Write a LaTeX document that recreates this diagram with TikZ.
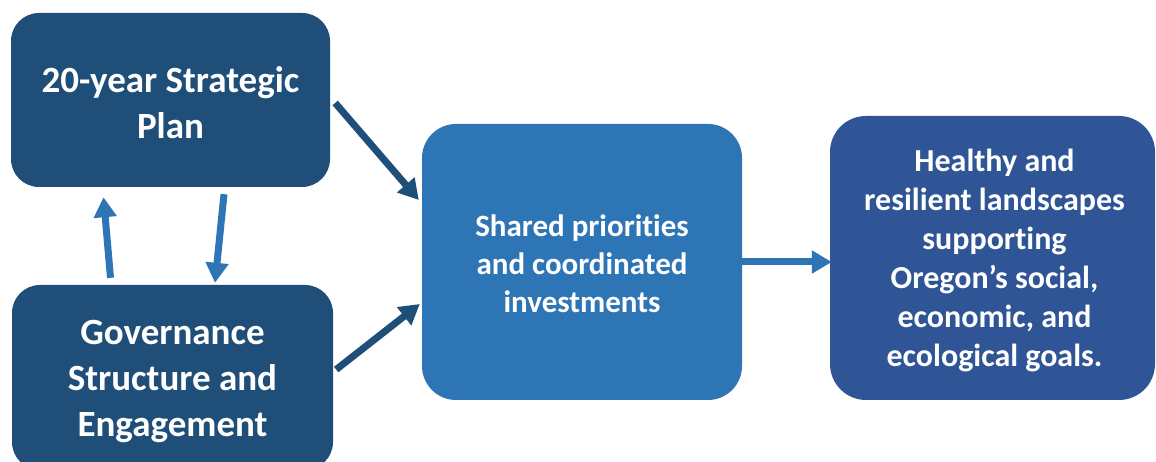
\documentclass[tikz,border=0pt]{standalone}
\usepackage{fontspec}
\setmainfont[Ligatures=NoCommon]{Carlito}
\usetikzlibrary{arrows.meta,calc}
\definecolor{dkblue}{HTML}{1F4E79}
\definecolor{mdblue}{HTML}{2E75B6}
\definecolor{rsblue}{HTML}{2F5597}
\tikzset{
  box/.style={rectangle, rounded corners=#1, inner sep=0pt},
  boxtext/.style={text=white, align=center, inner sep=0pt},
  darrow/.style={draw=dkblue, line width=7pt, -{Triangle[width=22pt,length=20pt]}},
  larrow/.style={draw=mdblue, line width=7pt, -{Triangle[width=22pt,length=20pt]}},
}
\begin{document}
\begin{tikzpicture}[x=1pt,y=1pt]
\clip (0,0) rectangle (1156,462);
\fill[white] (0,0) rectangle (1156,462);
\node[box=28pt, fill=dkblue, minimum width=319pt, minimum height=174pt,
  label={[boxtext, font=\fontsize{37}{46}\selectfont\bfseries, yshift=-2.5pt]center:{20-year Strategic\\Plan}}] (A) at (170.5,362) {};
\node[box=28pt, fill=dkblue, minimum width=321pt, minimum height=185pt,
  label={[boxtext, font=\fontsize{37}{46}\selectfont\bfseries, yshift=-4.5pt]center:{Governance\\Structure and\\Engagement}}] (B) at (172.5,84.5) {};
\node[box=34pt, fill=mdblue, minimum width=320pt, minimum height=276pt,
  label={[boxtext, font=\fontsize{31}{38}\selectfont\bfseries, yshift=-2pt]center:{Shared priorities\\and coordinated\\investments}}] (C) at (582,200) {};
\node[box=36pt, fill=rsblue, minimum width=325pt, minimum height=284pt,
  label={[boxtext, font=\fontsize{32}{39}\selectfont\bfseries, yshift=-2pt, xshift=2pt]center:{Healthy and\\resilient landscapes\\supporting\\Oregon’s social,\\economic, and\\ecological goals.}}] (D) at (992.5,204) {};
\draw[darrow] ($(A.east)+(5,-3)$) -- ($(C.west)+(-3,62)$);
\draw[darrow] ($(B.east)+(3,8)$) -- ($(C.west)+(-2,-42)$);
\draw[larrow] ($(B.north)+(-62,7)$) -- ($(A.south)+(-67,-10)$);
\draw[larrow] ($(A.south)+(53.5,-7)$) -- ($(B.north)+(42.5,2)$);
\draw[larrow] (C.east) -- ($(D.west)+(2,-4)$);
\end{tikzpicture}
\end{document}
